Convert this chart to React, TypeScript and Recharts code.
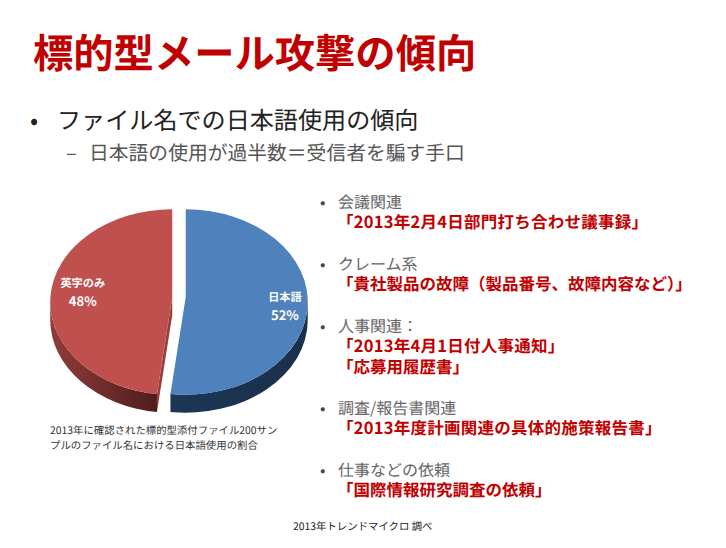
import { PieChart, Pie, Cell } from "recharts";

const sliceNames = ["日本語", "英字のみ"];
const sliceValues = [52, 48];
const sliceColors = ["#4f81bd", "#c0504d"];

const pieData = sliceNames.map((name, i) => ({ name, value: sliceValues[i] }));

const listItems = [
  { head: "会議関連", lines: ["「2013年2月4日部門打ち合わせ議事録」"], top: 192 },
  { head: "クレーム系", lines: ["「貴社製品の故障（製品番号、故障内容など）」"], top: 254 },
  { head: "人事関連：", lines: ["「2013年4月1日付人事通知」", "「応募用履歴書」"], top: 316 },
  { head: "調査/報告書関連", lines: ["「2013年度計画関連の具体的施策報告書」"], top: 398 },
  { head: "仕事などの依頼", lines: ["「国際情報研究調査の依頼」"], top: 460 },
];

const FONT = '"Noto Sans CJK JP", "Noto Sans", sans-serif';
const RY_RATIO = 0.76;
const DEPTH = 18;
const EXPLODE = 6.75;

const rad = (deg: number) => (deg * Math.PI) / 180;

// recharts only draws round pies, so squash each sector into an ellipse here
function TiltedSector(props: any) {
  const { cx, cy, outerRadius, startAngle, endAngle, midAngle, index, fill } = props;
  const rx = outerRadius;
  const ry = outerRadius * RY_RATIO;
  const mx = cx + Math.cos(rad(midAngle)) * EXPLODE;
  const pt = (a: number) => [mx + Math.cos(rad(a)) * rx, cy - Math.sin(rad(a)) * ry];
  const [sx, sy] = pt(startAngle);
  const [ex, ey] = pt(endAngle);
  const large = Math.abs(endAngle - startAngle) > 180 ? 1 : 0;
  const apexY = cy - 5;

  // front wall runs over the lower half of the rim only
  const isBlue = index === 0;
  const [ax, ay] = pt(isBlue ? 0 : startAngle);
  const [bx, by] = pt(isBlue ? endAngle : -180);
  const wall = `M${ax},${ay} A${rx},${ry} 0 0 1 ${bx},${by} L${bx},${by + DEPTH} A${rx},${ry} 0 0 0 ${ax},${ay + DEPTH} Z`;

  return (
    <g>
      <path d={wall} fill={isBlue ? "url(#blueWall)" : "url(#redWall)"} />
      {!isBlue && (
        <path
          d={`M${mx},${apexY} L${mx},${apexY + DEPTH} L${sx},${sy + DEPTH} L${sx},${sy} Z`}
          fill="#96403e"
        />
      )}
      <path
        d={`M${mx},${apexY} L${sx},${sy} A${rx},${ry} 0 ${large} 1 ${ex},${ey} Z`}
        fill={fill}
      />
    </g>
  );
}

function SliceLabel(props: any) {
  const { cx, cy, midAngle, outerRadius, index, name, value } = props;
  const reach = index === 0 ? 0.87 : 0.79;
  const x = cx + Math.cos(rad(midAngle)) * outerRadius * reach;
  const y = cy + (index === 0 ? -1 : -15);
  return (
    <text x={x} textAnchor="middle" fill="#fff" fontFamily={FONT} fontWeight={700}>
      <tspan x={x} y={y} fontSize={11.2}>{name}</tspan>
      <tspan x={x} y={y + 19} fontSize={13}>{value}%</tspan>
    </text>
  );
}

export default function App() {
  return (
    <div
      style={{
        position: "absolute",
        left: 0,
        top: 0,
        width: 726,
        height: 548,
        background: "#fff",
        fontFamily: FONT,
        textRendering: "geometricPrecision",
        overflow: "hidden",
      }}
    >
      <div style={{ position: "absolute", left: 33, top: 23, fontSize: 40.3, fontWeight: 700, color: "#c00000", whiteSpace: "nowrap", lineHeight: "56px" }}>
        標的型メール攻撃の傾向
      </div>
      <div style={{ position: "absolute", left: 30, top: 101, fontSize: 24, color: "#222", whiteSpace: "nowrap", lineHeight: "36px" }}>
        •
      </div>
      <div style={{ position: "absolute", left: 57, top: 101, fontSize: 24.1, color: "#222", whiteSpace: "nowrap", lineHeight: "36px" }}>
        ファイル名での日本語使用の傾向
      </div>
      <div style={{ position: "absolute", left: 66, top: 138, fontSize: 20, color: "#555", whiteSpace: "nowrap", lineHeight: "28px" }}>
        –
      </div>
      <div style={{ position: "absolute", left: 89, top: 138, fontSize: 19.8, color: "#555", whiteSpace: "nowrap", lineHeight: "28px" }}>
        日本語の使用が過半数＝受信者を騙す手口
      </div>

      <div style={{ position: "absolute", left: 0, top: 0 }}>
        <PieChart width={360} height={480} margin={{ top: 0, right: 0, bottom: 0, left: 0 }}>
          <defs>
            <linearGradient id="blueWall" x1="0" y1="0" x2="1" y2="0">
              <stop offset="0%" stopColor="#1c3656" />
              <stop offset="100%" stopColor="#1a2f4b" />
            </linearGradient>
            <linearGradient id="redWall" x1="0" y1="0" x2="1" y2="0">
              <stop offset="0%" stopColor="#8f3c3a" />
              <stop offset="100%" stopColor="#4f1d1c" />
            </linearGradient>
          </defs>
          <Pie
            data={pieData}
            dataKey="value"
            nameKey="name"
            cx={179}
            cy={302}
            outerRadius={122}
            startAngle={90}
            endAngle={-270}
            stroke="none"
            isAnimationActive={false}
            shape={TiltedSector}
            label={SliceLabel}
            labelLine={false}
          >
            {pieData.map((d, i) => (
              <Cell key={d.name} fill={sliceColors[i]} />
            ))}
          </Pie>
        </PieChart>
      </div>

      <div style={{ position: "absolute", left: 50, top: 423, width: 240, fontSize: 10.4, lineHeight: "14.5px", color: "#333" }}>
        <div style={{ whiteSpace: "nowrap" }}>2013年に確認された標的型添付ファイル200サン</div>
        <div style={{ whiteSpace: "nowrap" }}>プルのファイル名における日本語使用の割合</div>
      </div>

      {listItems.map((item) => (
        <div key={item.head} style={{ position: "absolute", left: 320, top: item.top, whiteSpace: "nowrap" }}>
          <div style={{ position: "relative", fontSize: 16, lineHeight: "19px", color: "#666", paddingLeft: 18 }}>
            <span style={{ position: "absolute", left: 0, color: "#444" }}>•</span>
            {item.head}
          </div>
          {item.lines.map((line) => (
            <div
              key={line}
              style={{
                fontSize: 16.5,
                lineHeight: "21px",
                fontWeight: 700,
                color: "#c00000",
                paddingLeft: 17,
                letterSpacing: /\d/.test(line) ? 0.25 : 0,
              }}
            >
              {line}
            </div>
          ))}
        </div>
      ))}

      <div style={{ position: "absolute", left: 293, top: 518, fontSize: 10.4, lineHeight: "16px", color: "#222", whiteSpace: "nowrap" }}>
        2013年トレンドマイクロ 調べ
      </div>
    </div>
  );
}
